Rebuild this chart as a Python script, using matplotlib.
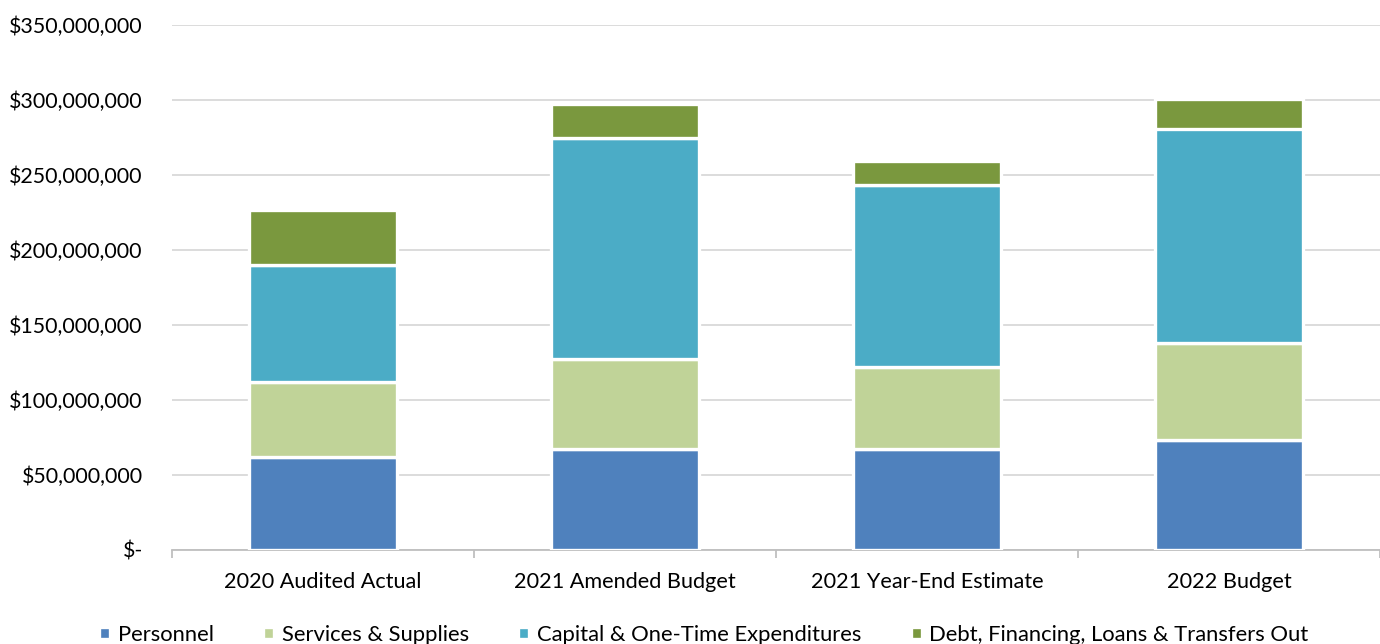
import matplotlib
matplotlib.use('Agg')
import matplotlib.pyplot as plt
from matplotlib.ticker import FuncFormatter, FixedLocator
import numpy as np

categories = ['2020 Audited Actual', '2021 Amended Budget',
              '2021 Year-End Estimate', '2022 Budget']
series_names = ['Personnel', 'Services & Supplies',
                'Capital & One-Time Expenditures',
                'Debt, Financing, Loans & Transfers Out']
personnel = [61.7e6, 67.5e6, 67.5e6, 73.2e6]
services = [50.3e6, 60.0e6, 54.3e6, 65.1e6]
capital = [78.3e6, 147.0e6, 121.7e6, 142.7e6]
debt = [36.2e6, 23.0e6, 16.0e6, 20.0e6]
colors = ['#4F81BD', '#C0D398', '#4BACC6', '#7A983E']

plt.rcParams['font.family'] = ['Lato', 'DejaVu Sans']

fig = plt.figure(figsize=(13.8, 6.44), dpi=100)
ax = fig.add_axes([172 / 1380, 94 / 644, 1 - 172 / 1380, (550 - 25) / 644])

x = np.arange(len(categories))
bottom = np.zeros(len(categories))
handles = []
for name, vals, c in zip(series_names, [personnel, services, capital, debt], colors):
    b = ax.bar(x, vals, width=0.49, bottom=bottom, color=c,
               edgecolor='white', linewidth=2.4, label=name, zorder=3)
    handles.append(b)
    bottom += np.array(vals)

ax.set_xlim(-0.5, len(categories) - 0.5)
ax.set_ylim(0, 350e6)
ax.set_yticks(np.arange(0, 350e6 + 1, 50e6))
ax.yaxis.set_major_formatter(FuncFormatter(
    lambda v, p: '$-' if v == 0 else f'${v:,.0f}'))
ax.grid(axis='y', color='#d9d9d9', linewidth=1.3, zorder=0)
ax.set_axisbelow(True)

for s in ['top', 'right', 'left']:
    ax.spines[s].set_visible(False)
ax.spines['bottom'].set_color('#bfbfbf')
ax.spines['bottom'].set_linewidth(1.3)

ax.set_xticks(x)
ax.set_xticklabels(categories)
ax.xaxis.set_minor_locator(FixedLocator(np.arange(-0.5, len(categories), 1.0)))
ax.tick_params(axis='x', which='major', length=0, pad=16, labelsize=15.6, colors='black')
ax.tick_params(axis='x', which='minor', length=6, width=1.3, color='#bfbfbf')
ax.tick_params(axis='y', length=0, pad=21, labelsize=15.4, colors='black')

leg = fig.legend(handles=handles, labels=series_names, loc='center',
                 bbox_to_anchor=(0.51, 0.014), ncol=4, frameon=False,
                 fontsize=15.8, handlelength=0.5, handleheight=0.5,
                 handletextpad=0.35, columnspacing=2.25)

fig.savefig('out.png')
